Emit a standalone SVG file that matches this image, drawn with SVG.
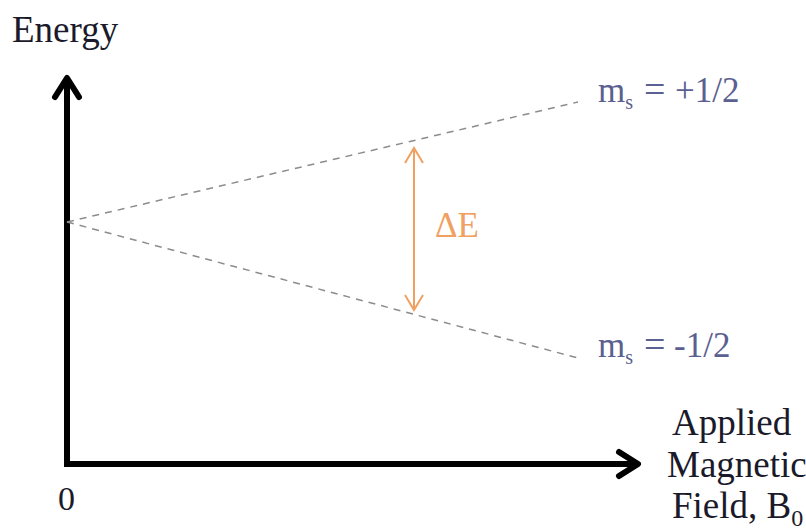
<svg xmlns="http://www.w3.org/2000/svg" width="806" height="532" viewBox="0 0 806 532">
<style>
.axis{stroke:#000;stroke-width:6;fill:none}
.head{stroke:#000;stroke-width:6;fill:none;stroke-linecap:round;stroke-linejoin:round}
.dash{stroke:#8c8c8c;stroke-width:1.5;stroke-dasharray:7,6;fill:none}
.de{stroke:#f0a060;stroke-width:2;fill:none}
.t{font-family:"Liberation Serif","DejaVu Serif",serif;fill:#1a1a2a}
.ms{font-family:"Liberation Serif","DejaVu Serif",serif;fill:#5a6090;font-size:35px}
</style>
<rect width="806" height="532" fill="#fff"/>
<g id="connectors">
<path class="axis" d="M67,466 V78"/>
<path class="head" d="M55,97 L67,78 L79,97"/>
<path class="axis" d="M64,464 H638"/>
<path class="head" d="M619,452 L638,464 L619,476"/>
<path class="dash" d="M67,222 L578,102"/>
<path class="dash" d="M67,222 L578,358"/>
<path class="de" d="M414,148 V310"/>
<path class="de" d="M405,163 L414,148 L423,163 M405,295 L414,310 L423,295"/>
</g>
<g id="energy"><text class="t" x="12" y="42" font-size="37">Energy</text></g>
<g id="zero"><text class="t" x="58" y="510" font-size="34">0</text></g>
<g id="field"><text class="t" font-size="37"><tspan x="672" y="435">Applied</tspan><tspan x="667" y="477">Magnetic</tspan><tspan x="672" y="518">Field, B<tspan font-size="24" dy="8">0</tspan></tspan></text></g>
<g id="plus"><text class="ms" x="598" y="102">m<tspan font-size="20" dy="7">s</tspan><tspan x="644" dy="-7" font-size="38">=</tspan><tspan x="675">+1/2</tspan></text></g>
<g id="minus"><text class="ms" x="598" y="357">m<tspan font-size="20" dy="7">s</tspan><tspan x="644" dy="-7" font-size="38">=</tspan><tspan x="674">-1/2</tspan></text></g>
<g id="deltaE"><text x="435" y="237" font-family="Liberation Serif,DejaVu Serif,serif" font-size="35" fill="#f0a060">ΔE</text></g>
</svg>
